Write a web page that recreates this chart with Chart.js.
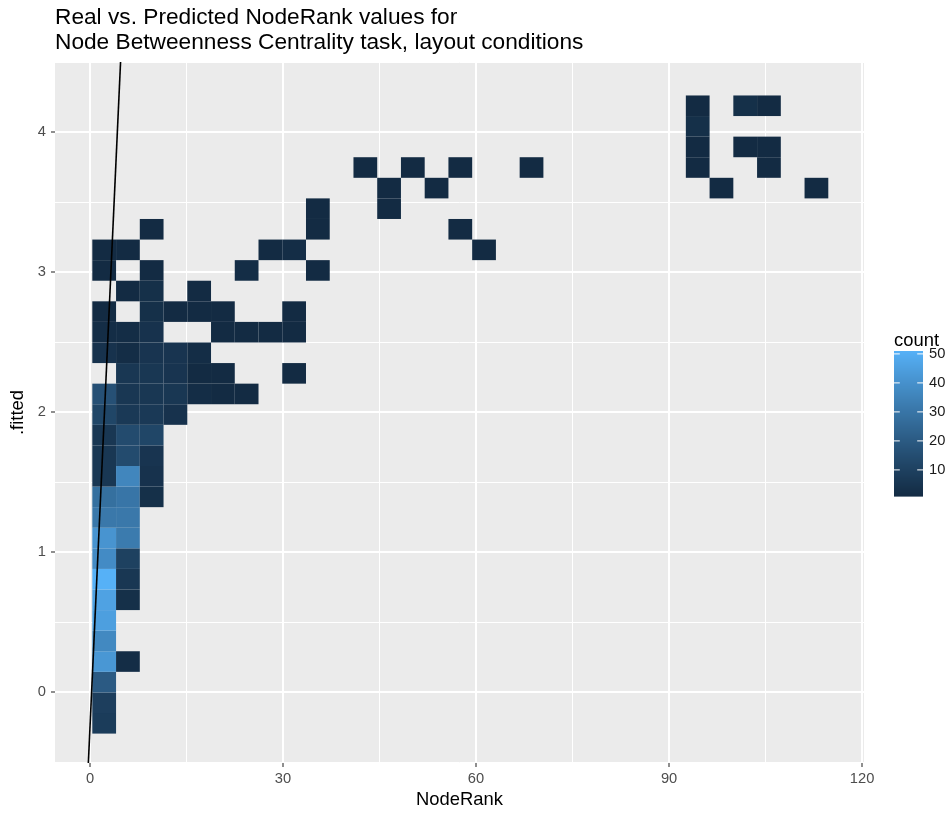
<!DOCTYPE html>
<html>
<head>
<meta charset="utf-8">
<script src="https://cdn.jsdelivr.net/npm/chart.js@4.4.1/dist/chart.umd.min.js"></script>
<style>
  html, body { margin: 0; padding: 0; background: #fff; }
  #wrap { width: 952px; height: 813px; }
</style>
</head>
<body>
<div id="wrap"><canvas id="chart" width="952" height="813"></canvas></div>
<script>
// bin grid (geom_bin2d style)
const X_BIN_START = 0.36;
const X_BIN_WIDTH = 3.69;
const Y_BIN_START = -0.296;
const Y_BIN_HEIGHT = 0.147;

// one entry per filled bin: column index, row index, count
const cellCol = [
  0, 0, 0, 0, 1, 0, 0, 0, 1, 0, 1, 0, 1, 0, 1, 0, 1,
  0, 1, 2, 0, 1, 2, 0, 1, 2, 0, 1, 2,
  0, 1, 2, 3,
  0, 1, 2, 3, 4, 5, 6,
  1, 2, 3, 4, 5, 8,
  0, 1, 2, 3, 4,
  0, 1, 2, 5, 6, 7, 8,
  0, 2, 3, 4, 5, 8,
  1, 2, 4,
  0, 2, 6, 9,
  0, 1, 7, 8, 16,
  2, 9, 15,
  9, 12,
  12, 14, 26, 30,
  11, 13, 15, 18, 25, 28,
  25, 27, 28,
  25,
  25, 27, 28
];
const cellRow = [
  0, 1, 2, 3, 3, 4, 5, 6, 6, 7, 7, 8, 8, 9, 9, 10, 10,
  11, 11, 11, 12, 12, 12, 13, 13, 13, 14, 14, 14,
  15, 15, 15, 15,
  16, 16, 16, 16, 16, 16, 16,
  17, 17, 17, 17, 17, 17,
  18, 18, 18, 18, 18,
  19, 19, 19, 19, 19, 19, 19,
  20, 20, 20, 20, 20, 20,
  21, 21, 21,
  22, 22, 22, 22,
  23, 23, 23, 23, 23,
  24, 24, 24,
  25, 25,
  26, 26, 26, 26,
  27, 27, 27, 27, 27, 27,
  28, 28, 28,
  29,
  30, 30, 30
];
const cellCount = [
  8, 9, 20, 42, 2, 37, 45, 46, 3, 51, 6, 38, 10, 41, 32, 31, 31,
  28, 30, 3, 6, 36, 4, 6, 14, 5, 6, 14, 12,
  12, 7, 7, 4,
  16, 6, 6, 6, 2, 1, 1,
  6, 6, 5, 1, 1, 1,
  4, 2, 5, 5, 2,
  2, 2, 4, 1, 1, 1, 1,
  1, 3, 1, 1, 1, 1,
  1, 3, 1,
  1, 1, 2, 1,
  1, 1, 1, 2, 1,
  1, 1, 1,
  1, 1,
  1, 1, 1, 1,
  1, 1, 1, 1, 1, 1,
  1, 1, 1,
  3,
  1, 3, 1
];

const xTicks = [0, 30, 60, 90, 120];
const yTicks = [0, 1, 2, 3, 4];
const legendTicks = [10, 20, 30, 40, 50];
const countRange = [1, 51];

// reference line drawn over the bins
const fitLineX = [-0.35, 4.85];
const fitLineY = [-0.6, 4.6];

const X_MIN = -5.44, X_MAX = 120.3;
const Y_MIN = -0.506, Y_MAX = 4.5;

const FONT = '"Liberation Sans", Arial, Helvetica, sans-serif';
const LOW = [0x13, 0x2B, 0x43];
const HIGH = [0x56, 0xB1, 0xF7];

// --- Lab colour interpolation, like scale_fill_gradient ---
function toLin(c) { c /= 255; return c <= 0.04045 ? c / 12.92 : Math.pow((c + 0.055) / 1.055, 2.4); }
function toSrgb(c) { c = c <= 0.0031308 ? 12.92 * c : 1.055 * Math.pow(c, 1 / 2.4) - 0.055; return Math.round(Math.max(0, Math.min(1, c)) * 255); }
function rgbToLab(rgb) {
  const R = toLin(rgb[0]), G = toLin(rgb[1]), B = toLin(rgb[2]);
  const X = (0.4124 * R + 0.3576 * G + 0.1805 * B) / 0.95047;
  const Y = (0.2126 * R + 0.7152 * G + 0.0722 * B);
  const Z = (0.0193 * R + 0.1192 * G + 0.9505 * B) / 1.08883;
  const f = t => t > 0.008856 ? Math.cbrt(t) : 7.787 * t + 16 / 116;
  const fx = f(X), fy = f(Y), fz = f(Z);
  return [116 * fy - 16, 500 * (fx - fy), 200 * (fy - fz)];
}
function labToRgb(lab) {
  const fy = (lab[0] + 16) / 116, fx = fy + lab[1] / 500, fz = fy - lab[2] / 200;
  const inv = t => t > 0.206893 ? t * t * t : (t - 16 / 116) / 7.787;
  const X = inv(fx) * 0.95047, Y = inv(fy), Z = inv(fz) * 1.08883;
  const R = 3.2406 * X - 1.5372 * Y - 0.4986 * Z;
  const G = -0.9689 * X + 1.8758 * Y + 0.0415 * Z;
  const B = 0.0557 * X - 0.2040 * Y + 1.0570 * Z;
  return 'rgb(' + toSrgb(R) + ',' + toSrgb(G) + ',' + toSrgb(B) + ')';
}
const LOW_LAB = rgbToLab(LOW), HIGH_LAB = rgbToLab(HIGH);
function countColor(n) {
  let t = (n - countRange[0]) / (countRange[1] - countRange[0]);
  t = Math.max(0, Math.min(1, t));
  return labToRgb(LOW_LAB.map((v, i) => v + (HIGH_LAB[i] - v) * t));
}

// minor grid lines sit halfway between the major ticks (kept inside the axis range)
function withMinors(major, lo, hi) {
  const out = [];
  const step = major[1] - major[0];
  out.push(major[0] - step / 2);
  major.forEach(v => { out.push(v); out.push(v + step / 2); });
  return out.filter(v => v >= lo - 1e-9 && v <= hi + 1e-9);
}
const isMajorX = v => xTicks.includes(v);
const isMajorY = v => yTicks.includes(v);

const panelBg = {
  id: 'panelBg',
  beforeDraw(chart) {
    const { ctx, chartArea: a } = chart;
    ctx.save();
    ctx.fillStyle = '#EBEBEB';
    ctx.fillRect(a.left, a.top, a.right - a.left, a.bottom - a.top);
    ctx.restore();
  }
};

const binTiles = {
  id: 'binTiles',
  beforeDatasetsDraw(chart) {
    const { ctx, chartArea: a, scales: { x, y } } = chart;
    ctx.save();
    ctx.beginPath();
    ctx.rect(a.left, a.top, a.right - a.left, a.bottom - a.top);
    ctx.clip();
    for (let i = 0; i < cellCount.length; i++) {
      const x0 = X_BIN_START + cellCol[i] * X_BIN_WIDTH;
      const y0 = Y_BIN_START + cellRow[i] * Y_BIN_HEIGHT;
      const px0 = x.getPixelForValue(x0), px1 = x.getPixelForValue(x0 + X_BIN_WIDTH);
      const py0 = y.getPixelForValue(y0), py1 = y.getPixelForValue(y0 + Y_BIN_HEIGHT);
      ctx.fillStyle = countColor(cellCount[i]);
      ctx.fillRect(px0, py1, px1 - px0, py0 - py1);
    }
    ctx.restore();
  }
};

const titleAndLegend = {
  id: 'titleAndLegend',
  afterDraw(chart) {
    const { ctx, chartArea: a } = chart;
    ctx.save();
    ctx.fillStyle = '#000';
    ctx.textBaseline = 'middle';
    ctx.textAlign = 'left';
    ctx.font = '22.7px ' + FONT;
    ctx.fillText('Real vs. Predicted NodeRank values for', a.left, 18);
    ctx.fillText('Node Betweenness Centrality task, layout conditions', a.left, 43);

    // colour bar legend
    const bx = 894, bw = 29, top = 351, bottom = 496;
    ctx.font = '18.4px ' + FONT;
    ctx.fillText('count', bx, 341);
    const steps = 145;
    for (let i = 0; i < steps; i++) {
      const v = countRange[1] - (countRange[1] - countRange[0]) * (i + 0.5) / steps;
      ctx.fillStyle = countColor(v);
      ctx.fillRect(bx, top + (bottom - top) * i / steps, bw, (bottom - top) / steps + 0.6);
    }
    ctx.font = '14.7px ' + FONT;
    legendTicks.forEach(v => {
      const py = bottom - (v - countRange[0]) / (countRange[1] - countRange[0]) * (bottom - top);
      ctx.strokeStyle = '#fff';
      ctx.lineWidth = 1;
      ctx.beginPath();
      ctx.moveTo(bx, py); ctx.lineTo(bx + 5.8, py);
      ctx.moveTo(bx + bw - 5.8, py); ctx.lineTo(bx + bw, py);
      ctx.stroke();
      ctx.fillStyle = '#1a1a1a';
      ctx.fillText(String(v), bx + bw + 6, py);
    });
    ctx.restore();
  }
};

new Chart(document.getElementById('chart'), {
  type: 'scatter',
  data: {
    datasets: [{
      type: 'line',
      data: fitLineX.map((v, i) => ({ x: v, y: fitLineY[i] })),
      borderColor: '#000',
      borderWidth: 1.6,
      pointRadius: 0,
      fill: false
    }]
  },
  options: {
    responsive: false,
    animation: false,
    events: [],
    layout: { padding: { top: 62, right: 88, left: 0, bottom: 0 } },
    plugins: { legend: { display: false }, tooltip: { enabled: false }, title: { display: false } },
    scales: {
      x: {
        type: 'linear',
        min: X_MIN,
        max: X_MAX,
        afterBuildTicks: s => { s.ticks = withMinors(xTicks, X_MIN, X_MAX).map(v => ({ value: v })); },
        afterFit: s => { s.height = 50; },
        border: { display: false },
        grid: {
          color: '#fff',
          lineWidth: c => isMajorX(c.tick.value) ? 2 : 1,
          tickColor: c => isMajorX(c.tick.value) ? '#333' : 'rgba(0,0,0,0)',
          tickLength: 4,
          tickWidth: 1.1
        },
        ticks: {
          autoSkip: false,
          maxRotation: 0,
          padding: 3,
          color: '#4d4d4d',
          font: { family: FONT, size: 14.7 },
          callback: v => isMajorX(v) ? String(v) : ''
        },
        title: {
          display: true,
          text: 'NodeRank',
          color: '#000',
          font: { family: FONT, size: 18.4 },
          padding: { top: 0, bottom: 2 }
        }
      },
      y: {
        type: 'linear',
        min: Y_MIN,
        max: Y_MAX,
        afterBuildTicks: s => { s.ticks = withMinors(yTicks, Y_MIN, Y_MAX).map(v => ({ value: v })); },
        afterFit: s => { s.width = 55; },
        border: { display: false },
        grid: {
          color: '#fff',
          lineWidth: c => isMajorY(c.tick.value) ? 2 : 1,
          tickColor: c => isMajorY(c.tick.value) ? '#333' : 'rgba(0,0,0,0)',
          tickLength: 4,
          tickWidth: 1.1
        },
        ticks: {
          autoSkip: false,
          padding: 5,
          color: '#4d4d4d',
          font: { family: FONT, size: 14.7 },
          callback: v => isMajorY(v) ? String(v) : ''
        },
        title: {
          display: true,
          text: '.fitted',
          color: '#000',
          font: { family: FONT, size: 18.4 },
          padding: { top: 7, bottom: 0 }
        }
      }
    }
  },
  plugins: [panelBg, binTiles, titleAndLegend]
});
</script>
</body>
</html>
